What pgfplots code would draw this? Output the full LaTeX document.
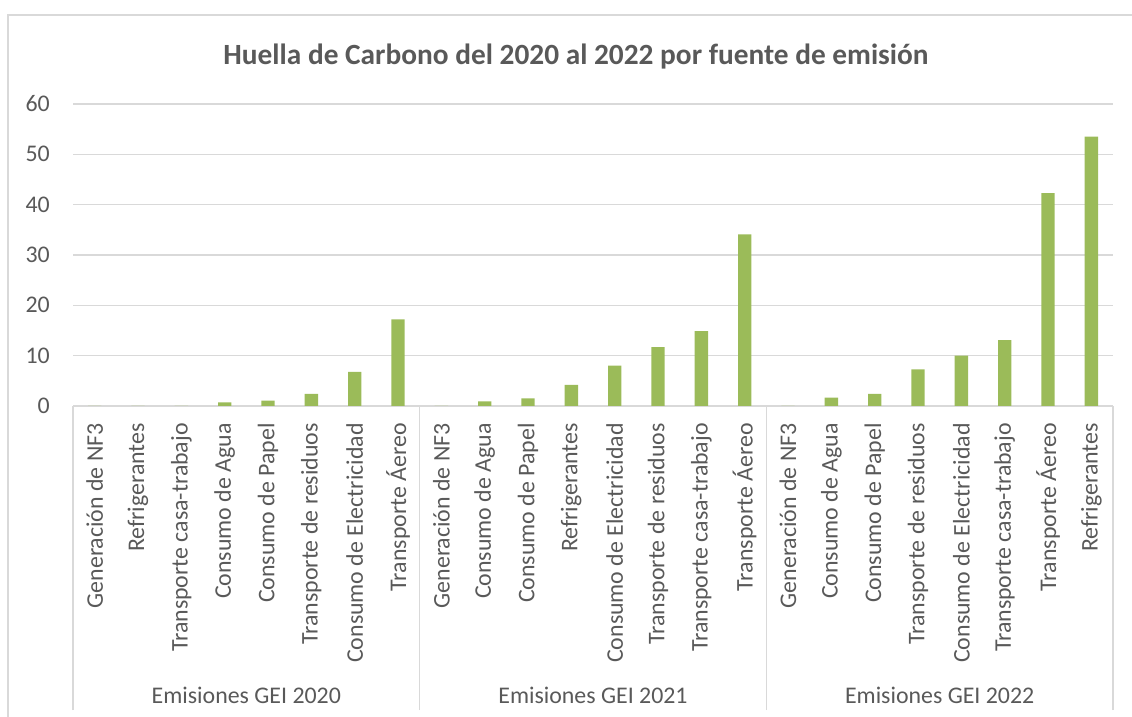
\documentclass[border=0pt]{standalone}
\usepackage{fontspec}
\setmainfont{Carlito}
\usepackage{pgfplots}
\pgfplotsset{compat=1.18}
\definecolor{bargreen}{HTML}{9BBB59}
\definecolor{gridgray}{HTML}{D9D9D9}
\definecolor{txtgray}{HTML}{595959}
\begin{document}
\begin{tikzpicture}
\useasboundingbox (0,0) rectangle (849pt,537.75pt);
\draw[gridgray, line width=1pt] (6pt,0) -- (6pt,526.5pt) -- (849pt,526.5pt);
\node[font=\fontsize{22}{26}\selectfont\bfseries, text=txtgray] at (432pt,495pt) {Huella de Carbono del 2020 al 2022 por fuente de emisión};
\begin{axis}[
  at={(54.75pt,233.25pt)}, anchor=south west,
  scale only axis, width=780pt, height=226.5pt,
  xmin=-0.5, xmax=23.5, ymin=0, ymax=60,
  ytick={0,10,...,60},
  xtick={0,...,23},
  xticklabels={Generación de NF3,Refrigerantes,Transporte casa-trabajo,Consumo de Agua,Consumo de Papel,Transporte de residuos,Consumo de Electricidad,Transporte Áereo,
    Generación de NF3,Consumo de Agua,Consumo de Papel,Refrigerantes,Consumo de Electricidad,Transporte de residuos,Transporte casa-trabajo,Transporte Áereo,
    Generación de NF3,Consumo de Agua,Consumo de Papel,Transporte de residuos,Consumo de Electricidad,Transporte casa-trabajo,Transporte Áereo,Refrigerantes},
  ymajorgrids, grid style={gridgray, line width=1.1pt},
  axis lines*=left,
  x axis line style={gridgray, line width=1.1pt},
  y axis line style={draw=none},
  major tick length=0pt,
  xticklabel style={rotate=90, anchor=east, inner sep=0pt, font=\fontsize{17.9}{21}\selectfont, text=txtgray},
  xticklabel shift=12.75pt,
  yticklabel style={anchor=east, inner sep=0pt, font=\fontsize{17.9}{21}\selectfont, text=txtgray, /pgf/number format/assume math mode=true},
  yticklabel shift=17.25pt,
  extra x ticks={-0.5,7.5,15.5,23.5},
  extra x tick labels={},
  extra x tick style={major tick length=228pt, tick align=outside, tick style={draw=gridgray, line width=1.1pt}},
  clip=false,
]
\addplot[ybar, bar width=10pt, fill=bargreen, draw=none] coordinates {
  (0,0) (1,0) (2,0) (3,0.73) (4,1.05) (5,2.4) (6,6.8) (7,17.2)
  (8,0) (9,0.93) (10,1.5) (11,4.2) (12,8.0) (13,11.7) (14,14.9) (15,34.1)
  (16,0) (17,1.65) (18,2.4) (19,7.3) (20,10.0) (21,13.1) (22,42.3) (23,53.5)
};
\node[anchor=base, font=\fontsize{17.9}{21}\selectfont, text=txtgray, yshift=-222.75pt] at (axis cs:3.5,0) {Emisiones GEI 2020};
\node[anchor=base, font=\fontsize{17.9}{21}\selectfont, text=txtgray, yshift=-222.75pt] at (axis cs:11.5,0) {Emisiones GEI 2021};
\node[anchor=base, font=\fontsize{17.9}{21}\selectfont, text=txtgray, yshift=-222.75pt] at (axis cs:19.5,0) {Emisiones GEI 2022};
\end{axis}
\end{tikzpicture}
\end{document}
